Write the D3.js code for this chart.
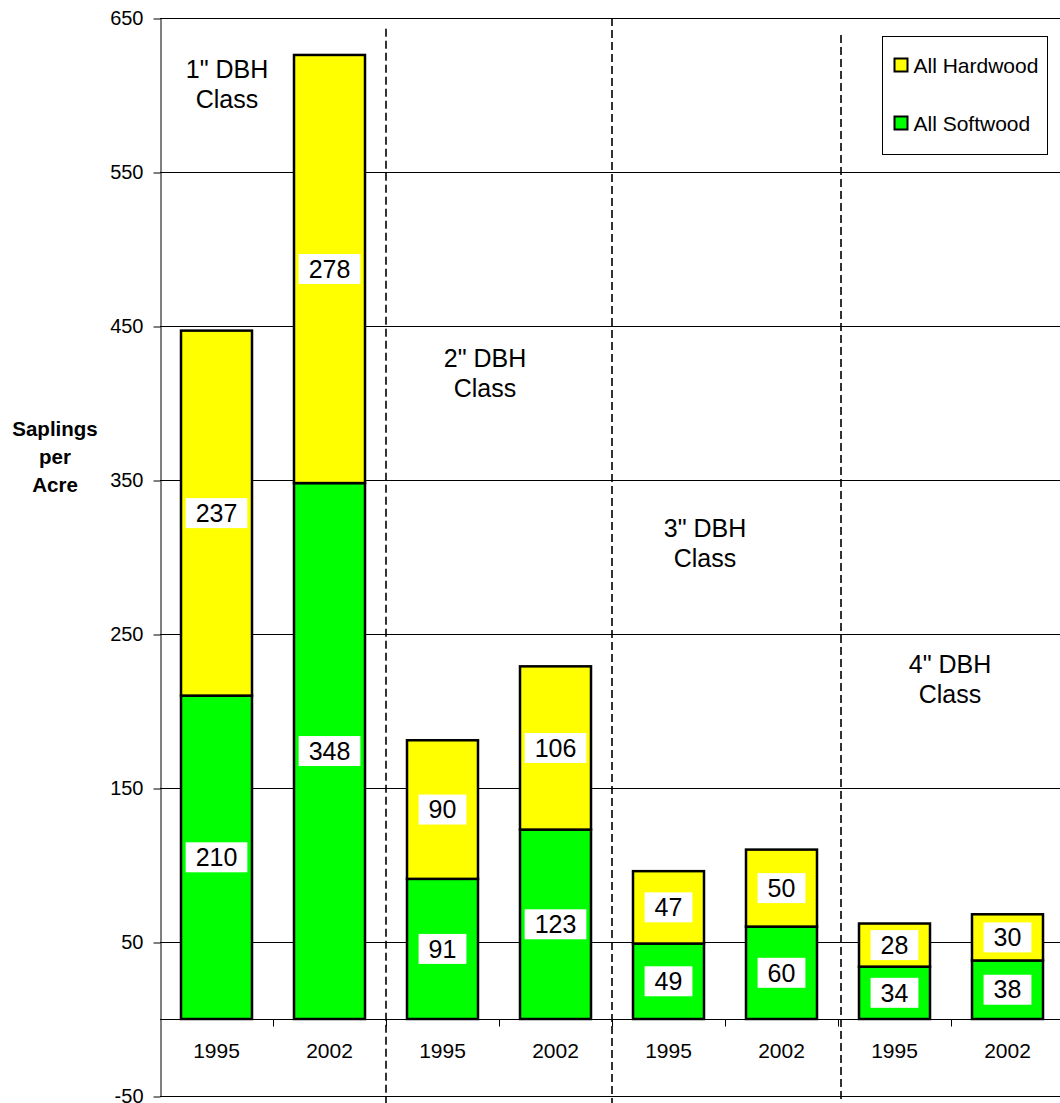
<!DOCTYPE html>
<html>
<head>
<meta charset="utf-8">
<script src="https://cdn.jsdelivr.net/npm/d3@7"></script>
<style>
  html, body { margin: 0; padding: 0; background: #fff; }
  svg { display: block; font-family: "Liberation Sans", Arial, sans-serif; }
</style>
</head>
<body>
<svg id="chart" width="1060" height="1103"></svg>
<script>
// ---- data ----
const years = ["1995", "2002", "1995", "2002", "1995", "2002", "1995", "2002"];
const softwood = [210, 348, 91, 123, 49, 60, 34, 38];
const hardwood = [237, 278, 90, 106, 47, 50, 28, 30];
const classNames = ['1" DBH', '2" DBH', '3" DBH', '4" DBH'];
const classLabelPos = [[0.593, 611], [2.876, 423.5], [4.823, 313], [6.991, 224.7]]; // [category units from left, value]
const yTicks = [-50, 50, 150, 250, 350, 450, 550, 650];
const dividerIdx = [2, 4, 6];
const dividerTop = [643, 650, 639];
const seriesNames = ["All Hardwood", "All Softwood"];
const seriesColors = ["#ffff00", "#00ff00"];

// ---- layout ----
const svg = d3.select("#chart");
const mLeft = 160, mRight = 1064, mTop = 18, mBottom = 1096;

const idx = d3.range(years.length);
const x = d3.scaleBand().domain(idx).range([mLeft, mRight])
  .paddingInner(42 / 113).paddingOuter(21 / 113);
const step = x.step();
const y = d3.scaleLinear().domain([-50, 650]).range([mBottom, mTop]);
const boundary = i => mLeft + i * step;

// gridlines
svg.append("g").selectAll("line").data(yTicks).join("line")
  .attr("x1", mLeft).attr("x2", 1060)
  .attr("y1", d => Math.round(y(d)) + 0.5).attr("y2", d => Math.round(y(d)) + 0.5)
  .attr("stroke", "#000").attr("stroke-width", 1);

// y axis
const yAxis = d3.axisLeft(y).tickValues(yTicks).tickFormat(d => String(d))
  .tickSize(7).tickPadding(10).tickSizeOuter(0);
const gy = svg.append("g").attr("transform", `translate(${mLeft + 0.5},0.5)`).call(yAxis);
gy.select(".domain").attr("stroke", "#000");
gy.selectAll(".tick line").attr("stroke", "#000");
gy.selectAll(".tick text").attr("font-size", 20).attr("font-family", "Liberation Sans, Arial, sans-serif").attr("fill", "#000");

// zero axis with category ticks
const y0 = Math.round(y(0)) + 0.5;
svg.append("line").attr("x1", mLeft).attr("x2", 1060).attr("y1", y0).attr("y2", y0)
  .attr("stroke", "#000").attr("stroke-width", 1);
svg.append("g").selectAll("line").data(d3.range(1, years.length)).join("line")
  .attr("x1", d => Math.round(boundary(d)) + 0.5).attr("x2", d => Math.round(boundary(d)) + 0.5)
  .attr("y1", y0).attr("y2", y0 + 7).attr("stroke", "#000");

// category labels
svg.append("g").selectAll("text").data(idx).join("text")
  .attr("x", i => x(i) + x.bandwidth() / 2).attr("y", y(0) + 39)
  .attr("text-anchor", "middle").attr("font-size", 21).attr("fill", "#000")
  .text(i => years[i]);

// bars
const barData = [];
idx.forEach(i => {
  barData.push({ i, y0: 0, y1: softwood[i], v: softwood[i], c: seriesColors[1] });
  barData.push({ i, y0: softwood[i], y1: softwood[i] + hardwood[i], v: hardwood[i], c: seriesColors[0] });
});
svg.append("g").selectAll("rect").data(barData).join("rect")
  .attr("x", d => x(d.i)).attr("width", x.bandwidth())
  .attr("y", d => y(d.y1)).attr("height", d => y(d.y0) - y(d.y1))
  .attr("fill", d => d.c).attr("stroke", "#000").attr("stroke-width", 2.5);

// value labels with white boxes
const lg = svg.append("g").selectAll("g").data(barData).join("g")
  .attr("transform", d => `translate(${x(d.i) + x.bandwidth() / 2},${y((d.y0 + d.y1) / 2)})`);
lg.append("rect").attr("fill", "#fff");
lg.append("text").attr("text-anchor", "middle").attr("dy", "0.35em")
  .attr("font-size", 25).attr("fill", "#000").text(d => d.v);
lg.each(function () {
  const g = d3.select(this);
  const w = g.select("text").node().getComputedTextLength();
  g.select("rect").attr("x", -w / 2 - 10).attr("width", w + 20).attr("y", -15).attr("height", 30);
});

// dashed dividers
svg.append("g").selectAll("line").data(dividerIdx).join("line")
  .attr("x1", (d, k) => Math.round(boundary(d)) + (k === 2 ? 3 : 0))
  .attr("x2", (d, k) => Math.round(boundary(d)) + (k === 2 ? 3 : 0))
  .attr("y1", (d, k) => y(dividerTop[k])).attr("y2", 1103)
  .attr("stroke", "#000").attr("stroke-width", 1.6).attr("stroke-dasharray", "8,4");

// class labels
const cl = svg.append("g").selectAll("text").data(classNames).join("text")
  .attr("text-anchor", "middle").attr("font-size", 25).attr("fill", "#000")
  .attr("transform", (d, k) => `translate(${mLeft + classLabelPos[k][0] * step},${y(classLabelPos[k][1])})`);
cl.append("tspan").attr("x", 0).attr("y", 0).text(d => d);
cl.append("tspan").attr("x", 0).attr("y", 30).text("Class");

// y axis title
const yt = svg.append("text").attr("text-anchor", "middle").attr("font-size", 20.5)
  .attr("font-weight", "bold").attr("fill", "#000");
["Saplings", "per", "Acre"].forEach((t, k) => {
  yt.append("tspan").attr("x", 55).attr("y", 436 + k * 28).text(t);
});

// legend
const leg = svg.append("g").attr("transform", "translate(882.5,36.5)");
leg.append("rect").attr("width", 165).attr("height", 118)
  .attr("fill", "#fff").attr("stroke", "#000").attr("stroke-width", 1);
const li = leg.selectAll("g").data(seriesNames).join("g")
  .attr("transform", (d, k) => `translate(12,${22 + k * 58})`);
li.append("rect").attr("width", 13).attr("height", 13)
  .attr("fill", (d, k) => seriesColors[k]).attr("stroke", "#000").attr("stroke-width", 2);
li.append("text").attr("x", 19).attr("y", 6.5).attr("dy", "0.36em")
  .attr("font-size", 21).attr("fill", "#000").text(d => d);
</script>
</body>
</html>
